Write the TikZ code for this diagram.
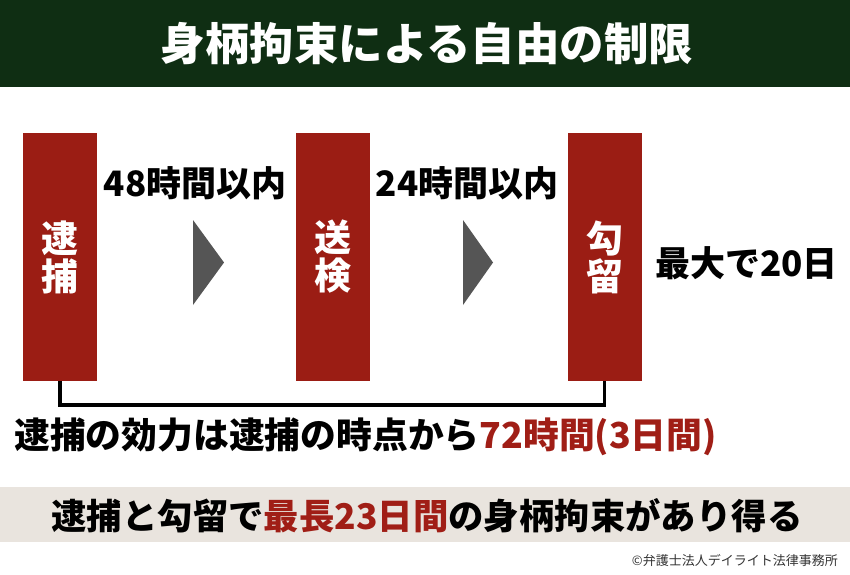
\documentclass[tikz,border=0pt]{standalone}
\usepackage{fontspec}
\setmainfont{Noto Sans CJK JP}
\usetikzlibrary{positioning}
\definecolor{bargreen}{RGB}{15,46,19}
\definecolor{boxred}{RGB}{155,29,20}
\definecolor{txtred}{RGB}{160,30,22}
\definecolor{tri}{RGB}{85,85,85}
\definecolor{band}{RGB}{233,228,222}
\tikzset{
  stage/.style={fill=boxred, text=white, minimum width=74pt, minimum height=248pt,
    inner sep=0pt, align=center, font=\fontsize{37}{38}\selectfont\bfseries},
  term/.style={inner sep=0pt, font=\fontsize{35}{37}\selectfont\bfseries},
  arrowtri/.style={fill=tri},
}
\begin{document}
\begin{tikzpicture}[x=1pt,y=-1pt]
			\useasboundingbox (0,0) rectangle (850,574);
			% title bar
			\fill[bargreen] (0,0) rectangle (850,87);
			\node[text=white, font=\fontsize{44.5}{46}\selectfont\bfseries] (title) at (427,44) {身柄拘束による自由の制限};
			% stages
			\node[stage] (arrest) at (60,257) {逮\\捕};
			\node[stage] (prosec) at (333,257) {送\\検};
			\node[stage] (remand) at (604.5,257) {勾\\留};
			\node[term] (lim48) at (195,183) {48時間以内};
			\node[term] (lim24) at (467,183) {24時間以内};
			\node[term, anchor=west] (max20) at (655,263) {最大で20日};
			\fill[arrowtri] (193,220) -- (224,262.5) -- (193,305) -- cycle;
			\fill[arrowtri] (463,220) -- (493,262.5) -- (463,305) -- cycle;
			% bracket
			\draw[line width=3.5pt] (arrest.south) -- ++(0,24) coordinate (bl) -| (remand.south);
			\node[term, anchor=west, font=\fontsize{35.8}{38}\selectfont\bfseries] (effect) at (14,437) {逮捕の効力は逮捕の時点から\textcolor{txtred}{72時間(3日間)}};
			% summary band
			\fill[band] (0,487) rectangle (850,542);
			\node[term, font=\fontsize{35.4}{38}\selectfont\bfseries] (summary) at (427,516) {逮捕と勾留で\textcolor{txtred}{最長23日間}の身柄拘束があり得る};
			\node[inner sep=0pt, anchor=east, text=black!80, font=\fontsize{13}{14}\selectfont] (copy) at (838,560) {©弁護士法人デイライト法律事務所};
\end{tikzpicture}
\end{document}
